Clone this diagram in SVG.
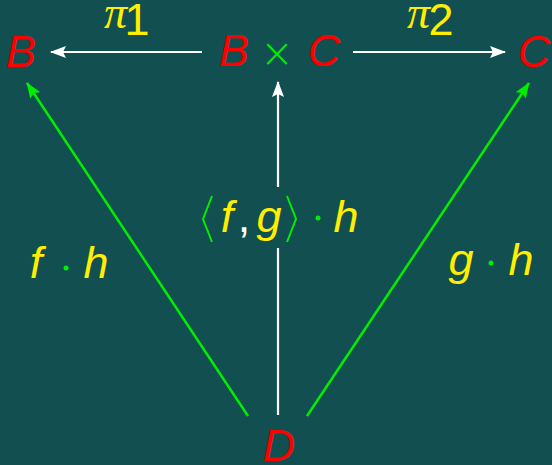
<svg xmlns="http://www.w3.org/2000/svg" width="552" height="465" viewBox="0 0 552 465">
<defs>
<style>
.m{font-family:"Liberation Sans","DejaVu Sans",sans-serif;font-style:italic;font-size:45px;text-anchor:middle}
.pi{font-family:"Liberation Serif","DejaVu Serif",serif;font-style:italic;font-size:46px}
.r{fill:#ff0000}
.y{fill:#ffee00}
.g{fill:#00ee00}
.w{fill:#ffffff}
.up{font-style:normal}
.x{font-family:"DejaVu Sans ExtraLight","DejaVu Sans",sans-serif;font-weight:200;font-style:normal;font-size:40px;text-anchor:middle}
.wl{stroke:#ffffff;stroke-width:2.2;fill:none}
.gl{stroke:#00ee00;stroke-width:2.5;fill:none}
</style>
<marker id="aw" viewBox="0 0 16 12" refX="15" refY="6" markerWidth="16" markerHeight="12" markerUnits="userSpaceOnUse" orient="auto">
<path d="M0,0 L16,6 L0,12 L3,6 Z" fill="#ffffff"/>
</marker>
<marker id="ag" viewBox="0 0 16 12" refX="15" refY="6" markerWidth="16" markerHeight="12" markerUnits="userSpaceOnUse" orient="auto">
<path d="M0,0 L16,6 L0,12 L3,6 Z" fill="#00ee00"/>
</marker>
</defs>
<rect width="552" height="465" fill="#124f50"/>
<g id="connectors">
<line class="wl" x1="202" y1="52" x2="51" y2="52" marker-end="url(#aw)"/>
<line class="wl" x1="353" y1="52" x2="505" y2="52" marker-end="url(#aw)"/>
<line class="wl" x1="278" y1="187" x2="278" y2="82" marker-end="url(#aw)"/>
<line class="wl" x1="278" y1="248" x2="278" y2="415"/>
<line class="gl" x1="248" y1="416" x2="27" y2="83" marker-end="url(#ag)"/>
<line class="gl" x1="307" y1="416" x2="529" y2="83" marker-end="url(#ag)"/>
</g>
<g id="node-B">
<text class="m r" x="21" y="67">B</text>
</g>
<g id="node-BxC">
<text class="m r" x="234" y="66">B</text>
<text class="x g" x="277" y="67">×</text>
<text class="m r" x="324" y="66">C</text>
</g>
<g id="node-C">
<text class="m r" x="534" y="67">C</text>
</g>
<g id="node-D">
<text class="m r" x="279" y="461">D</text>
</g>
<g id="label-pi1">
<text class="pi y" x="104" y="28">π</text>
<text class="m y up" x="137" y="35" font-size="27">1</text>
</g>
<g id="label-pi2">
<text class="pi y" x="407" y="28">π</text>
<text class="m y up" x="441" y="35" font-size="27">2</text>
</g>
<g id="label-fh">
<text class="m y" x="36" y="278">f</text>
<circle class="g" cx="66" cy="268" r="2.5"/>
<text class="m y" x="96" y="278">h</text>
</g>
<g id="label-gh">
<text class="m y" x="461" y="275">g</text>
<circle class="g" cx="491" cy="263" r="2.5"/>
<text class="m y" x="521" y="275">h</text>
</g>
<g id="label-fgh">
<path d="M212,196 L203,219 L212,242" fill="none" stroke="#00ee00" stroke-width="2"/>
<text class="m y" x="227" y="232">f</text>
<text class="m w up" x="244" y="232" font-size="40">,</text>
<text class="m y" x="269" y="232">g</text>
<path d="M287,196 L296,219 L287,242" fill="none" stroke="#00ee00" stroke-width="2"/>
<circle class="g" cx="318" cy="218" r="2.5"/>
<text class="m y" x="346" y="232">h</text>
</g>
</svg>
